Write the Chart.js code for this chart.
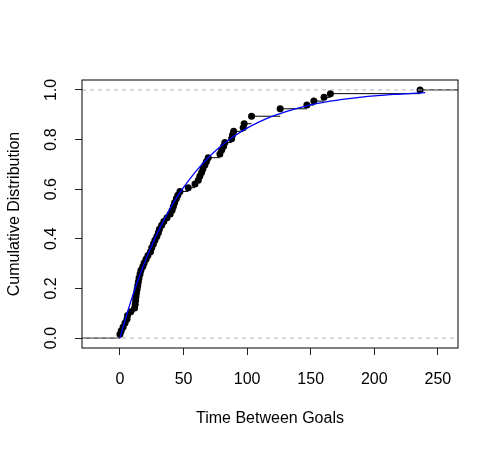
<!DOCTYPE html>
<html>
<head>
<meta charset="utf-8">
<script src="https://cdn.jsdelivr.net/npm/chart.js@4"></script>
<style>
  html, body { margin: 0; padding: 0; background: #fff; }
  canvas { display: block; }
</style>
</head>
<body>
<canvas id="ecdfChart" width="500" height="450"></canvas>
<script>
// ECDF of time between goals, with fitted CDF curve on top
const ecdfX = [0, 1, 2.5, 4, 5.5, 6, 8.5, 11.5, 12, 12.3, 12.6, 13, 13.5, 14, 14.5, 15,
    15.8, 16.5, 18, 19, 20.5, 22, 24, 25, 26.3, 27.5, 29, 30.2, 31, 32.8, 34.5, 37,
    39.5, 41, 42, 43, 44.3, 45.5, 47.2, 53.7, 59, 61.6, 62.8, 64.2, 65.3, 66.8, 68, 69.4,
    78.6, 80, 81.5, 82.5, 87.8, 88.5, 89.4, 96.9, 97.7, 103.5, 126, 147, 152.5, 160.5,
    165.5, 236];
const ecdfY = [0.015, 0.030, 0.045, 0.061, 0.076, 0.091, 0.106, 0.121, 0.136, 0.152,
    0.167, 0.182, 0.197, 0.212, 0.227, 0.242, 0.258, 0.273, 0.288, 0.303, 0.318, 0.333,
    0.348, 0.364, 0.379, 0.394, 0.409, 0.424, 0.439, 0.455, 0.470, 0.485, 0.500, 0.515,
    0.530, 0.545, 0.561, 0.576, 0.591, 0.606, 0.621, 0.636, 0.652, 0.667, 0.682, 0.697,
    0.712, 0.727, 0.742, 0.758, 0.773, 0.788, 0.803, 0.818, 0.833, 0.848, 0.864, 0.894,
    0.924, 0.939, 0.955, 0.970, 0.985, 1.000];

// blue fitted curve
const curveX = [0, 5, 10, 15, 20, 25, 30, 35, 40, 45, 50, 60, 70, 80, 90, 100, 110, 120,
    130, 140, 150, 160, 170, 180, 190, 200, 215, 230, 240];
const curveY = [0, 0.089, 0.171, 0.245, 0.312, 0.373, 0.429, 0.480, 0.527, 0.569, 0.607,
    0.674, 0.730, 0.776, 0.814, 0.846, 0.872, 0.894, 0.912, 0.927, 0.940, 0.950, 0.958,
    0.965, 0.971, 0.976, 0.982, 0.986, 0.989];

const xTicks = [0, 50, 100, 150, 200, 250];
const yTicks = [0, 0.2, 0.4, 0.6, 0.8, 1.0];
const xLimits = [-29.85, 265.85];
const yLimits = [-0.04, 1.04];
const refLevels = [0, 1];

const FONT = { family: '"Liberation Sans", Arial, sans-serif', size: 16 };

// horizontal steps (no verticals), extended to the plot edges
function stepSegments() {
    const pts = [{ x: xLimits[0], y: 0 }, { x: ecdfX[0], y: 0 }, { x: ecdfX[0], y: null }];
    for (let i = 0; i < ecdfX.length; i++) {
        const next = i < ecdfX.length - 1 ? ecdfX[i + 1] : xLimits[1];
        pts.push({ x: ecdfX[i], y: ecdfY[i] }, { x: next, y: ecdfY[i] }, { x: next, y: null });
    }
    return pts;
}

const boxPlugin = {
    id: 'plotBox',
    afterDraw(chart) {
        const { ctx, chartArea: a } = chart;
        ctx.save();
        ctx.strokeStyle = '#000';
        ctx.lineWidth = 1;
        ctx.strokeRect(a.left, a.top, a.right - a.left, a.bottom - a.top);
        ctx.restore();
    }
};

new Chart(document.getElementById('ecdfChart'), {
    type: 'scatter',
    data: {
        datasets: [
            {
                data: curveX.map((x, i) => ({ x, y: curveY[i] })),
                showLine: true, borderColor: '#0000ff', borderWidth: 1.3,
                pointRadius: 0, cubicInterpolationMode: 'monotone', order: 0
            },
            ...refLevels.map(lv => ({
                data: [{ x: xLimits[0], y: lv }, { x: xLimits[1], y: lv }],
                showLine: true, borderColor: '#b3b3b3', borderWidth: 1,
                borderDash: [4, 4], pointRadius: 0, order: 1
            })),
            {
                data: ecdfX.map((x, i) => ({ x, y: ecdfY[i] })),
                showLine: false, pointRadius: 3.5, pointBackgroundColor: '#000',
                pointBorderWidth: 0, order: 2
            },
            {
                data: stepSegments(),
                showLine: true, spanGaps: false, borderColor: '#000', borderWidth: 1,
                pointRadius: 0, order: 3
            }
        ]
    },
    options: {
        responsive: false,
        animation: false,
        devicePixelRatio: 1,
        layout: { padding: { top: 80, right: 42, left: 0, bottom: 0 } },
        plugins: { legend: { display: false }, tooltip: { enabled: false } },
        scales: {
            x: {
                type: 'linear', min: xLimits[0], max: xLimits[1],
                afterBuildTicks: s => { s.ticks = xTicks.map(v => ({ value: v })); },
                afterFit: s => { s.height = 102; },
                ticks: { font: FONT, color: '#000', padding: 15, maxRotation: 0, callback: v => String(v) },
                grid: { drawOnChartArea: false, tickLength: 7, color: '#222' },
                border: { display: false },
                title: { display: true, text: 'Time Between Goals', font: FONT, color: '#000', padding: { top: 0, bottom: 22 } }
            },
            y: {
                type: 'linear', min: yLimits[0], max: yLimits[1],
                afterBuildTicks: s => { s.ticks = yTicks.map(v => ({ value: v })); },
                afterFit: s => { s.width = 82; },
                ticks: {
                    font: FONT, color: '#000', padding: 12, minRotation: 90, maxRotation: 90,
                    crossAlign: 'center', callback: v => v.toFixed(1)
                },
                grid: { drawOnChartArea: false, tickLength: 7, color: '#222' },
                border: { display: false },
                title: { display: true, text: 'Cumulative Distribution', font: FONT, color: '#000', padding: { top: 5, bottom: 0 } }
            }
        }
    },
    plugins: [boxPlugin]
});
</script>
</body>
</html>
